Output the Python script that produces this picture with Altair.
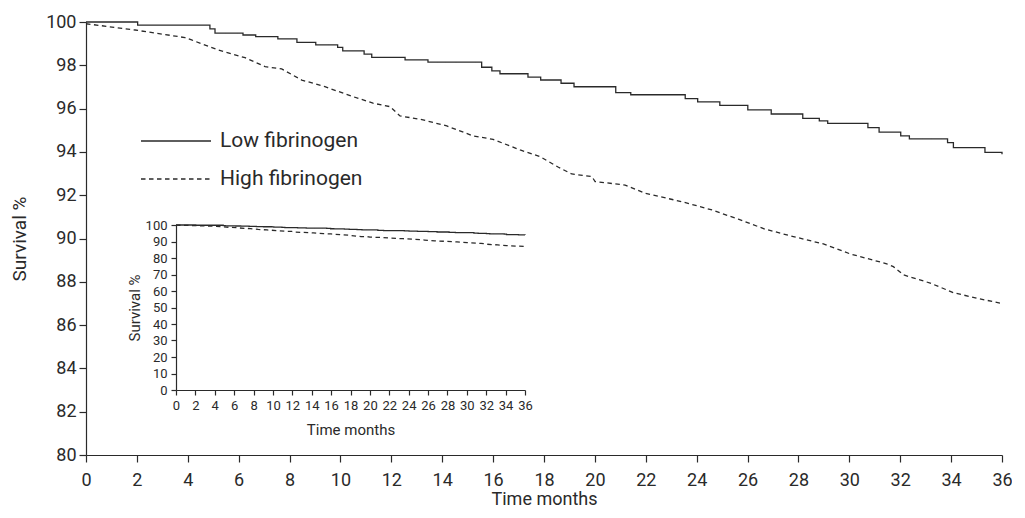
import altair as alt
import pandas as pd

# ---- data ----
groups = ["Low fibrinogen", "High fibrinogen"]

low_t = [0, 2.03, 4.87, 5.07, 6.17, 6.67, 7.54, 8.29, 9.03, 9.89, 10.09, 10.93, 11.23,
         12.54, 13.44, 15.55, 15.95, 16.27, 17.37, 17.87, 18.67, 19.18, 20.82, 21.41,
         23.55, 24.04, 24.91, 26.01, 26.93, 28.17, 28.82, 29.15, 30.73, 31.17, 32.02,
         32.36, 33.86, 34.09, 35.33, 36.0]
low_s = [100, 99.86, 99.68, 99.49, 99.40, 99.32, 99.22, 99.06, 98.94, 98.83, 98.67,
         98.52, 98.37, 98.25, 98.15, 97.91, 97.74, 97.61, 97.45, 97.32, 97.17, 97.01,
         96.74, 96.64, 96.46, 96.31, 96.15, 95.94, 95.75, 95.55, 95.43, 95.32, 95.12,
         94.91, 94.74, 94.60, 94.43, 94.20, 93.98, 93.89]

high_t = [0, 1.93, 3.89, 4.15, 5.19, 6.25, 7.04, 7.69, 8.48, 9.39, 10.5, 11.28, 11.95,
          12.34, 13.13, 14.18, 15.21, 16.0, 17.06, 17.85, 18.57, 19.09, 19.88, 20.01,
          21.19, 21.97, 23.42, 24.6, 25.64, 26.69, 27.8, 28.98, 30.03, 31.47, 31.73,
          32.13, 33.18, 34.09, 35.01, 35.96]
high_s = [99.92, 99.63, 99.28, 99.17, 98.71, 98.35, 97.94, 97.83, 97.32, 97.01, 96.55,
          96.25, 96.09, 95.66, 95.51, 95.2, 94.74, 94.58, 94.09, 93.78, 93.29, 92.98,
          92.86, 92.63, 92.47, 92.09, 91.7, 91.32, 90.89, 90.43, 90.09, 89.75, 89.29,
          88.83, 88.7, 88.32, 87.94, 87.5, 87.24, 87.01]

main_x_ticks = list(range(0, 37, 2))
main_y_ticks = list(range(80, 101, 2))
inset_x_ticks = list(range(0, 37, 2))
inset_y_ticks = list(range(0, 101, 10))

low_df = pd.DataFrame({"t": low_t, "s": low_s, "g": groups[0]})
high_df = pd.DataFrame({"t": high_t, "s": high_s, "g": groups[1]})

# ---- styling ----
W, H = 916, 433
FONT = "Roboto"
INK = "#2a2a2a"
SW = 1.3

legend = alt.Legend(
    title=None, orient="none", legendX=40, legendY=108, padding=0,
    symbolType="M-3.5,0H3.5", symbolSize=400, symbolStrokeWidth=SW,
    symbolStrokeColor=INK, symbolFillColor="transparent", symbolOffset=39,
    labelFont=FONT, labelFontSize=21, labelColor=INK, labelOffset=33,
    rowPadding=17,
)
dash = alt.StrokeDash(
    "g:N",
    scale=alt.Scale(domain=groups, range=[[1, 0], [4.5, 3.5]]),
    legend=legend,
)

common_axis = dict(grid=False, domainColor=INK, tickColor=INK, labelColor=INK,
                   titleColor=INK, labelFont=FONT, titleFont=FONT,
                   titleFontWeight="normal", labelFlush=False, labelOverlap=False,
                   domainWidth=1.2, tickWidth=1.2)

mx = alt.X("t:Q", scale=alt.Scale(domain=[0, 36], nice=False, zero=False),
           axis=alt.Axis(orient="bottom", values=main_x_ticks, title="Time months",
                         tickSize=7, labelPadding=9, labelFontSize=18,
                         titleFontSize=18, titlePadding=1, **common_axis))
my = alt.Y("s:Q", scale=alt.Scale(domain=[80, 100], nice=False, zero=False),
           axis=alt.Axis(orient="left", values=main_y_ticks, title="Survival %",
                         tickSize=7, labelPadding=3, labelFontSize=18,
                         titleFontSize=19, titlePadding=16, **common_axis))

main_low = alt.Chart(low_df).mark_line(interpolate="step-after", color=INK,
                                       strokeWidth=SW).encode(x=mx, y=my, strokeDash=dash)
main_high = alt.Chart(high_df).mark_line(interpolate="linear", color=INK,
                                         strokeWidth=SW).encode(x=mx, y=my, strokeDash=dash)
main = alt.layer(main_low, main_high)

ix = alt.X("t:Q", scale=alt.Scale(domain=[0, 36], range=[90, 439], nice=False, zero=False),
           axis=alt.Axis(orient="bottom", offset=-65, values=inset_x_ticks,
                         title="Time months", tickSize=5, labelPadding=4,
                         labelFontSize=13, titleFontSize=15, titlePadding=10,
                         **common_axis))
iy = alt.Y("s:Q", scale=alt.Scale(domain=[0, 100], range=[368, 203], nice=False, zero=False),
           axis=alt.Axis(orient="left", offset=-90, values=inset_y_ticks,
                         title="Survival %", tickSize=5, labelPadding=4,
                         labelFontSize=13, titleFontSize=15, titlePadding=3,
                         **common_axis))

inset_low = alt.Chart(low_df).mark_line(interpolate="step-after", color=INK,
                                        strokeWidth=SW).encode(x=ix, y=iy, strokeDash=dash)
inset_high = alt.Chart(high_df).mark_line(interpolate="linear", color=INK,
                                          strokeWidth=SW).encode(x=ix, y=iy, strokeDash=dash)
inset = alt.layer(inset_low, inset_high)

chart = (
    alt.layer(main, inset)
    .resolve_scale(x="independent", y="independent")
    .properties(
        width=W, height=H,
        padding={"left": 78, "top": 14, "right": 10, "bottom": 55},
        autosize=alt.AutoSizeParams(type="none"),
        background="white",
    )
    .configure_view(stroke=None)
)

chart.save("out.html", embed_options={"renderer": "svg", "actions": False})
